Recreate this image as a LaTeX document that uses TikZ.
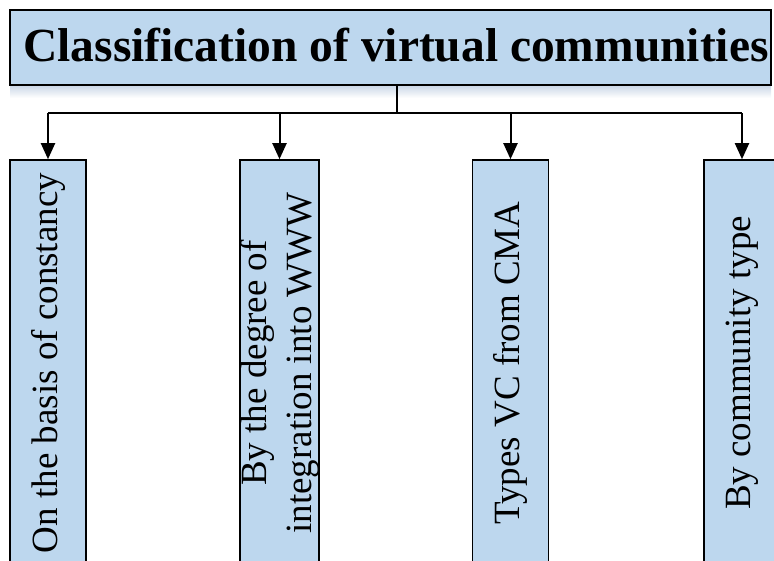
\documentclass[tikz,border=0pt]{standalone}
\usepackage{fontspec}
\setmainfont{Liberation Serif}
\usetikzlibrary{arrows.meta}

\definecolor{boxblue}{HTML}{BDD7EE}
\definecolor{shadeblue}{HTML}{C9D6E6}

\tikzset{
  titlebox/.style={draw=black, line width=2pt, fill=boxblue, rectangle,
    minimum width=761pt, minimum height=75pt, inner sep=0pt},
  titletext/.style={font=\fontsize{47.5pt}{50pt}\selectfont\bfseries, inner sep=0pt},
  catbox/.style={draw=black, line width=1.6pt, fill=boxblue, rectangle, rotate=90,
    minimum width=406pt, minimum height=76pt, inner sep=0pt, align=center,
    font=\fontsize{37pt}{45pt}\selectfont},
  link/.style={line width=2pt, draw=black},
  arrowlink/.style={link, -{Triangle[width=14pt,length=16pt]}}
}

\begin{document}
\begin{tikzpicture}[x=1pt, y=-1pt]
  \useasboundingbox (0,0) rectangle (774,560);
  \clip (0,0) rectangle (774,560);

  % soft shadow under the heading
  \shade[top color=shadeblue, bottom color=white, draw=none] (10,85) rectangle (771,98);

  % heading
  \node[titlebox] (title) at (390.5,47) {};
  \node[titletext, anchor=base] (titletxt) at (396,61) {Classification of virtual communities};

  % categories
  \node[catbox] (c1) at (48,363) {On the basis of constancy};
  \node[catbox] (c2) at (279.5,363) {By the degree of\\integration into WWW};
  \node[catbox] (c3) at (510.5,363) {Types VC from CMA};
  \node[catbox] (c4) at (742,363) {By community type};

  % branching connectors
  \coordinate (j) at (397,113);
  \draw[link] (j |- title.south) -- (j);
  \draw[link] (c1.east |- j) -- (c4.east |- j);
  \foreach \b in {c1,c2,c3,c4}
    \draw[arrowlink] (\b.east |- j) -- (\b.east);
\end{tikzpicture}
\end{document}
